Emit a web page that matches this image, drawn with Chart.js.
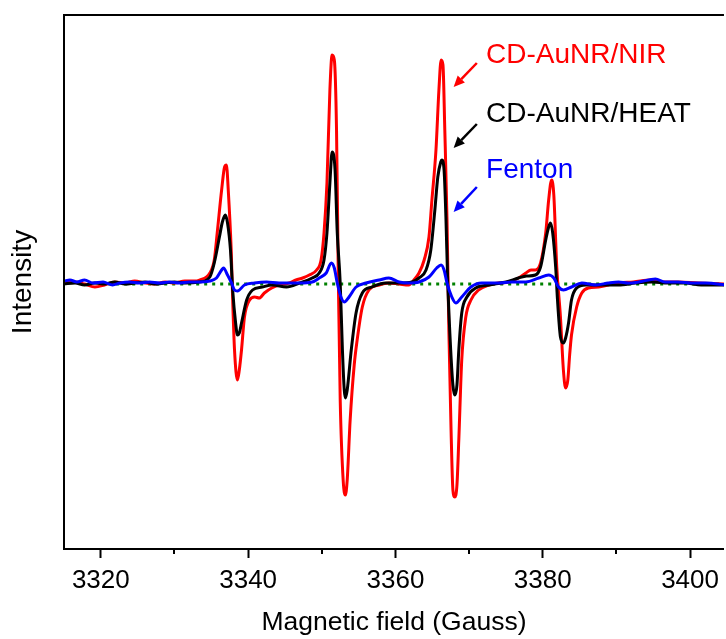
<!DOCTYPE html>
<html>
<head>
<meta charset="utf-8">
<script src="https://cdn.jsdelivr.net/npm/chart.js@4.4.1/dist/chart.umd.min.js"></script>
<style>
  html, body { margin: 0; padding: 0; background: #fff; }
</style>
</head>
<body>
<canvas id="eprChart" width="726" height="639"></canvas>
<script>
// field axis (Gauss)
const xTicks = [3320, 3340, 3360, 3380, 3400];
const xMinorTicks = [3330, 3350, 3370, 3390];

// CD-AuNR/NIR (red)
const nirField = [
  3315.0, 3316.5, 3317.8, 3319.2, 3320.5, 3321.9, 3323.3, 3324.6, 3326.0, 3327.3,
  3328.7, 3330.0, 3331.4, 3332.7, 3333.4, 3334.8, 3335.4, 3335.8, 3336.4, 3336.8,
  3337.05, 3337.3, 3337.7, 3337.9, 3338.15, 3338.55, 3338.8, 3339.1, 3339.5, 3340.2,
  3340.9, 3341.5, 3342.2, 3343.2, 3344.2, 3345.6, 3346.5, 3347.4, 3348.3, 3349.3,
  3349.9, 3350.3, 3350.7, 3351.1, 3351.4, 3351.7, 3352.0, 3352.25, 3352.5, 3352.9,
  3353.2, 3353.45, 3353.85, 3354.4, 3354.8, 3355.5, 3356.4, 3357.8, 3359.1, 3360.5,
  3361.8, 3362.5, 3363.2, 3363.9, 3364.55, 3364.95, 3365.5, 3365.9, 3366.2, 3366.45,
  3366.7, 3367.0, 3367.25, 3367.55, 3367.8, 3368.05, 3368.35, 3368.6, 3369.0, 3369.55,
  3370.25, 3371.3, 3372.7, 3374.0, 3375.4, 3376.7, 3377.7, 3378.4, 3379.0, 3379.7,
  3380.4, 3380.8, 3381.2, 3381.5, 3381.9, 3382.4, 3382.8, 3383.1, 3383.4, 3383.65,
  3383.9, 3384.6, 3385.3, 3386.2, 3387.6, 3388.9, 3390.3, 3392.3, 3394.7, 3396.1,
  3398.4, 3401.1, 3405.0
];
const nirIntensity = [
  0.00, 0.01, -0.01, -0.04, -0.02, 0.01, 0.00, 0.02, 0.00, -0.01,
  0.01, 0.00, 0.02, 0.02, 0.03, 0.10, 0.23, 0.50, 0.93, 1.16,
  1.18, 0.93, 0.33, -0.17, -0.67, -0.97, -0.87, -0.67, -0.34, -0.17,
  -0.14, -0.15, -0.10, -0.05, -0.02, 0.00, 0.03, 0.05, 0.08, 0.13,
  0.23, 0.50, 1.00, 1.93, 2.28, 2.23, 1.53, 0.00, -1.17, -1.97,
  -2.12, -1.97, -1.37, -0.82, -0.57, -0.24, -0.07, -0.02, 0.00, -0.01,
  -0.02, 0.03, 0.10, 0.23, 0.46, 0.83, 1.33, 1.93, 2.23, 2.18,
  1.53, 0.63, -0.47, -1.47, -2.07, -2.14, -2.02, -1.57, -0.77, -0.34,
  -0.17, -0.07, -0.02, 0.00, 0.01, 0.05, 0.10, 0.13, 0.13, 0.20,
  0.50, 0.83, 1.03, 0.88, 0.16, -0.34, -0.87, -1.05, -0.97, -0.72,
  -0.52, -0.24, -0.10, -0.05, -0.04, -0.02, 0.00, 0.01, 0.03, 0.01,
  0.01, 0.00, -0.01
];

// CD-AuNR/HEAT (black)
const heatField = [
  3315.0, 3316.5, 3317.8, 3319.2, 3320.5, 3321.9, 3323.3, 3324.6, 3326.0, 3327.3,
  3328.7, 3330.0, 3331.4, 3333.4, 3334.8, 3335.4, 3336.1, 3336.5, 3336.9, 3337.2,
  3337.6, 3337.9, 3338.3, 3338.55, 3338.8, 3339.1, 3339.8, 3340.6, 3341.9, 3343.3,
  3345.2, 3347.0, 3348.7, 3349.65, 3350.3, 3350.7, 3351.1, 3351.4, 3351.8, 3352.1,
  3352.5, 3352.8, 3353.05, 3353.2, 3353.45, 3354.0, 3354.65, 3355.5, 3356.8, 3358.7,
  3360.5, 3362.25, 3363.2, 3364.15, 3364.8, 3365.35, 3365.75, 3366.15, 3366.3, 3366.6,
  3366.85, 3367.1, 3367.5, 3367.8, 3368.05, 3368.35, 3368.6, 3369.0, 3369.7, 3370.9,
  3372.7, 3375.0, 3376.7, 3377.8, 3379.0, 3379.7, 3380.4, 3380.8, 3381.05, 3381.35,
  3381.75, 3382.0, 3382.4, 3382.8, 3383.1, 3383.5, 3383.9, 3384.6, 3385.8, 3388.0,
  3390.3, 3392.6, 3394.75, 3397.05, 3399.35, 3401.5, 3405.0
];
const heatIntensity = [
  -0.01, 0.00, -0.02, 0.00, -0.01, 0.01, -0.01, 0.00, 0.01, -0.01,
  0.00, 0.01, 0.00, 0.01, 0.06, 0.20, 0.46, 0.61, 0.68, 0.60,
  0.33, -0.07, -0.40, -0.52, -0.50, -0.40, -0.17, -0.07, -0.04, -0.02,
  -0.04, 0.00, 0.05, 0.10, 0.23, 0.50, 1.00, 1.31, 1.13, 0.50,
  0.00, -0.67, -1.07, -1.15, -1.07, -0.67, -0.30, -0.10, -0.04, 0.00,
  0.00, 0.01, 0.05, 0.13, 0.33, 0.73, 1.06, 1.21, 1.23, 1.13,
  0.66, 0.00, -0.67, -1.02, -1.12, -1.02, -0.67, -0.30, -0.14, -0.05,
  -0.02, 0.01, 0.05, 0.07, 0.08, 0.16, 0.43, 0.56, 0.60, 0.50,
  0.16, -0.17, -0.54, -0.60, -0.55, -0.40, -0.17, -0.05, -0.02, -0.02,
  -0.02, 0.00, 0.01, 0.00, 0.00, -0.02, -0.02
];

// Fenton (blue)
const fentonField = [
  3315.0, 3315.8, 3316.75, 3317.8, 3318.9, 3320.3, 3321.6, 3322.6, 3323.9, 3325.3,
  3326.6, 3328.0, 3329.3, 3330.7, 3332.0, 3333.4, 3334.8, 3335.7, 3336.4, 3336.65,
  3337.2, 3337.75, 3338.15, 3338.55, 3339.5, 3340.85, 3342.5, 3344.2, 3346.95, 3348.7,
  3349.65, 3350.6, 3351.3, 3351.7, 3352.1, 3352.6, 3353.05, 3353.7, 3354.65, 3356.0,
  3357.8, 3359.1, 3360.5, 3361.8, 3363.2, 3364.55, 3365.6, 3366.2, 3366.6, 3367.0,
  3367.65, 3368.2, 3369.0, 3370.25, 3371.7, 3374.0, 3375.8, 3377.7, 3379.45, 3380.8,
  3381.5, 3382.15, 3382.8, 3383.9, 3385.3, 3387.2, 3388.9, 3390.3, 3391.6, 3393.0,
  3395.3, 3396.6, 3398.4, 3400.2, 3402.1, 3405.0
];
const fentonIntensity = [
  0.02, 0.03, 0.01, 0.03, 0.00, 0.01, -0.02, 0.00, 0.01, 0.00,
  0.01, 0.00, 0.01, 0.00, 0.01, 0.01, 0.02, 0.05, 0.13, 0.15,
  0.08, 0.00, -0.07, -0.08, -0.02, 0.00, 0.01, 0.00, 0.00, 0.01,
  0.05, 0.10, 0.20, 0.15, 0.00, -0.14, -0.19, -0.14, -0.04, 0.00,
  0.03, 0.05, 0.01, 0.00, 0.01, 0.06, 0.15, 0.18, 0.13, 0.00,
  -0.14, -0.20, -0.14, -0.04, 0.00, 0.00, 0.01, 0.01, 0.05, 0.08,
  0.05, -0.04, -0.07, -0.04, 0.00, -0.02, 0.00, 0.01, 0.00, 0.01,
  0.04, 0.01, 0.01, 0.00, 0.00, -0.02
];

// control (green dotted)
const controlField = [3321, 3335, 3350, 3365, 3380, 3395, 3405];
const controlIntensity = [-0.01, -0.01, -0.01, -0.01, -0.01, -0.01, -0.01];

// arrow labels
const noteText = ['CD-AuNR/NIR', 'CD-AuNR/HEAT', 'Fenton'];
const noteColor = ['#ff0000', '#000000', '#0000ff'];
const noteField = 3372.3;
const noteLevel = [2.20, 1.61, 1.05];
const arrowTailField = 3371.05;
const arrowTailLevel = [2.20, 1.59, 0.96];
const arrowTipField = 3367.9;
const arrowTipLevel = [1.96, 1.35, 0.71];

const fontFamily = '"Liberation Sans", Arial, sans-serif';

function toPoints(xs, ys) {
  return xs.map((x, i) => ({ x: x, y: ys[i] }));
}

const decorPlugin = {
  id: 'decor',
  afterDraw(chart) {
    const ctx = chart.ctx;
    const a = chart.chartArea;
    const x = chart.scales.x;
    const y = chart.scales.y;
    ctx.save();

    // frame (left + top), bottom comes from the x axis border
    ctx.strokeStyle = '#000';
    ctx.lineWidth = 2;
    ctx.beginPath();
    ctx.moveTo(a.left, a.bottom + 1);
    ctx.lineTo(a.left, a.top);
    ctx.lineTo(a.right, a.top);
    ctx.stroke();

    // minor ticks
    ctx.beginPath();
    xMinorTicks.forEach(v => {
      const px = Math.round(x.getPixelForValue(v));
      ctx.moveTo(px, a.bottom);
      ctx.lineTo(px, a.bottom + 5);
    });
    ctx.stroke();

    // y title
    ctx.save();
    ctx.translate(23, (a.top + a.bottom) / 2);
    ctx.rotate(-Math.PI / 2);
    ctx.font = '28px ' + fontFamily;
    ctx.fillStyle = '#000';
    ctx.textAlign = 'center';
    ctx.textBaseline = 'middle';
    ctx.fillText('Intensity', 0, 0);
    ctx.restore();

    // labels with arrows
    ctx.font = '28px ' + fontFamily;
    ctx.textAlign = 'left';
    ctx.textBaseline = 'alphabetic';
    noteText.forEach((t, i) => {
      ctx.fillStyle = noteColor[i];
      ctx.strokeStyle = noteColor[i];
      ctx.fillText(t, x.getPixelForValue(noteField), y.getPixelForValue(noteLevel[i]));

      const x0 = x.getPixelForValue(arrowTailField), y0 = y.getPixelForValue(arrowTailLevel[i]);
      const x1 = x.getPixelForValue(arrowTipField), y1 = y.getPixelForValue(arrowTipLevel[i]);
      const ang = Math.atan2(y1 - y0, x1 - x0);
      const head = 11, half = 5;
      const bx = x1 - head * Math.cos(ang), by = y1 - head * Math.sin(ang);
      ctx.lineWidth = 2.5;
      ctx.beginPath();
      ctx.moveTo(x0, y0);
      ctx.lineTo(bx, by);
      ctx.stroke();
      ctx.beginPath();
      ctx.moveTo(x1, y1);
      ctx.lineTo(bx + half * Math.sin(ang), by - half * Math.cos(ang));
      ctx.lineTo(bx - half * Math.sin(ang), by + half * Math.cos(ang));
      ctx.closePath();
      ctx.fill();
    });

    ctx.restore();
  }
};

new Chart(document.getElementById('eprChart'), {
  type: 'line',
  data: {
    datasets: [
      { label: 'Fenton', data: toPoints(fentonField, fentonIntensity), borderColor: '#0000ff' },
      { label: 'CD-AuNR/HEAT', data: toPoints(heatField, heatIntensity), borderColor: '#000000' },
      { label: 'CD-AuNR/NIR', data: toPoints(nirField, nirIntensity), borderColor: '#ff0000' },
      { label: 'Control', data: toPoints(controlField, controlIntensity), borderColor: '#008000',
        borderDash: [3, 5], borderWidth: 3 }
    ]
  },
  options: {
    responsive: false,
    animation: false,
    layout: { padding: { top: 15, left: 64, right: 0, bottom: 0 } },
    plugins: { legend: { display: false }, tooltip: { enabled: false } },
    elements: {
      point: { radius: 0 },
      line: { borderWidth: 3, cubicInterpolationMode: 'monotone', fill: false }
    },
    scales: {
      x: {
        type: 'linear',
        min: 3315,
        max: 3404.6,
        afterBuildTicks: scale => { scale.ticks = xTicks.map(v => ({ value: v })); },
        grid: { display: true, drawOnChartArea: false, drawTicks: true, tickLength: 9, tickWidth: 2, color: '#000', tickColor: '#000' },
        border: { display: true, color: '#000', width: 2 },
        ticks: { color: '#000', font: { family: fontFamily, size: 26 }, padding: 7, maxRotation: 0, autoSkip: false,
          callback: v => String(v) },
        title: { display: true, text: 'Magnetic field (Gauss)', color: '#000',
          font: { family: fontFamily, size: 26.5 }, padding: { top: 4, bottom: 0 } }
      },
      y: { display: false, min: -2.66, max: 2.68 }
    }
  },
  plugins: [decorPlugin]
});
</script>
</body>
</html>
